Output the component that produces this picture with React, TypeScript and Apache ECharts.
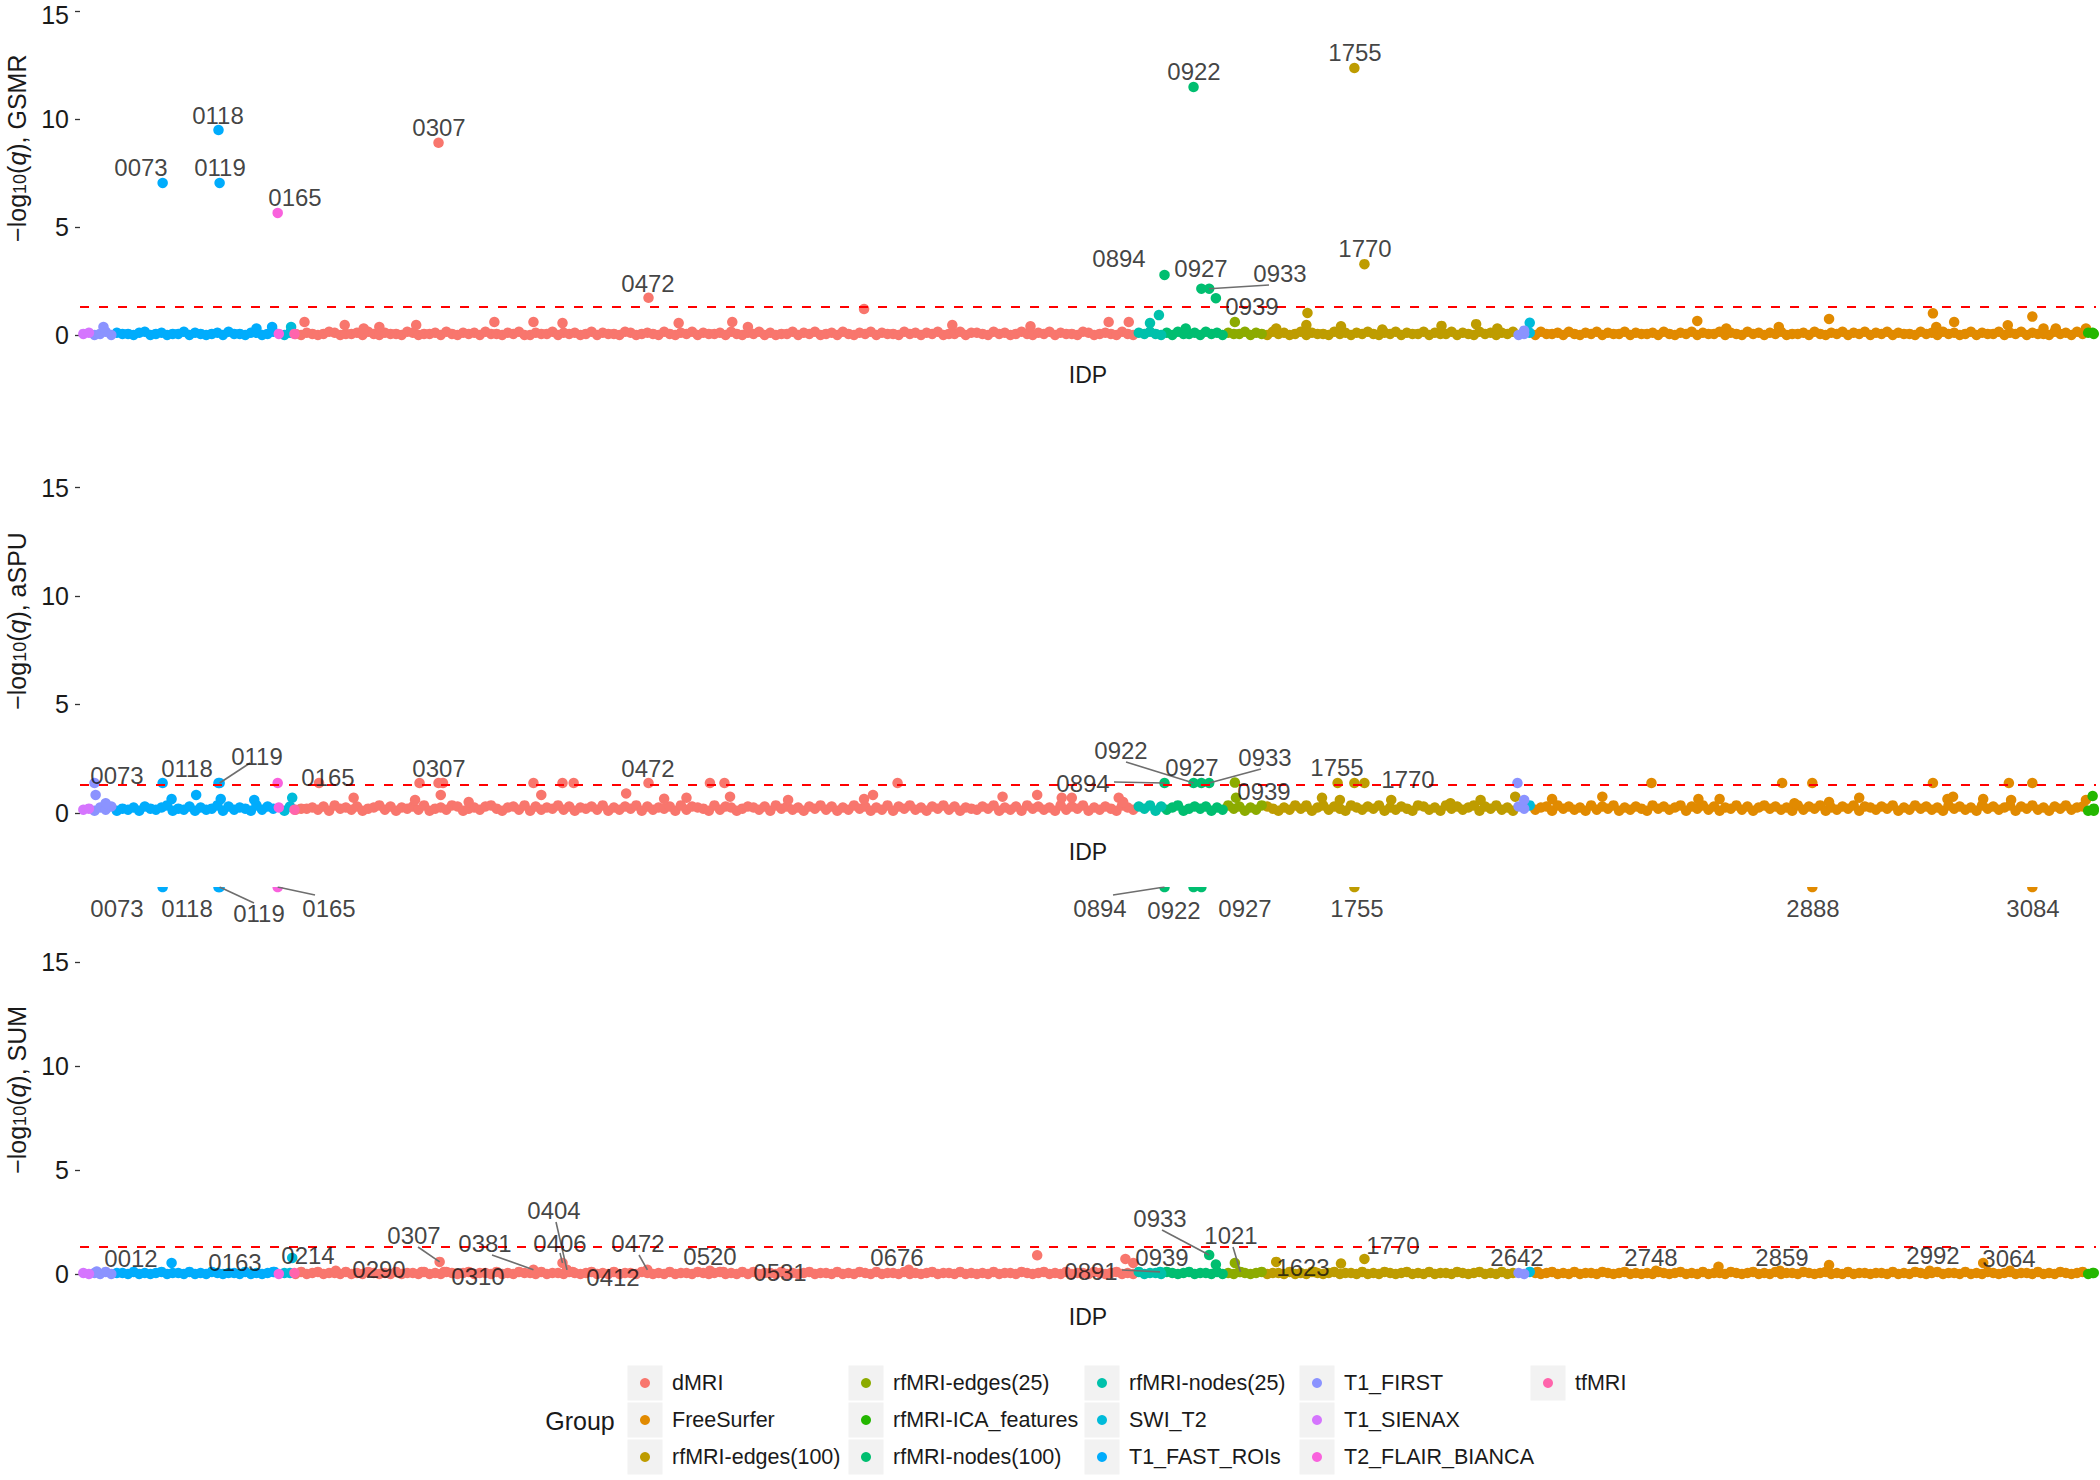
import React, { useEffect, useRef } from "react";
import * as echarts from "echarts";

const FONT = "'Liberation Sans', Arial, Helvetica, sans-serif";

// ---------- groups ----------
const GROUPS = [
  "dMRI", "FreeSurfer", "rfMRI-edges(100)", "rfMRI-edges(25)", "rfMRI-ICA_features",
  "rfMRI-nodes(100)", "rfMRI-nodes(25)", "SWI_T2", "T1_FAST_ROIs", "T1_FIRST",
  "T1_SIENAX", "T2_FLAIR_BIANCA", "tfMRI",
];
const GROUP_COLORS = [
  "#F8766D", "#E18A00", "#BE9C00", "#8CAB00", "#24B700", "#00BE70", "#00C1AB",
  "#00BBDA", "#00ACFC", "#8B93FF", "#D575FE", "#F962DD", "#FF65AC",
];

// order of IDPs along the x axis: [group, first position, last position]
const X_BLOCKS: [string, number, number][] = [
  ["T1_SIENAX", 1, 12],
  ["T1_FIRST", 13, 30],
  ["T1_FAST_ROIs", 31, 176],
  ["T2_FLAIR_BIANCA", 177, 178],
  ["SWI_T2", 179, 190],
  ["tfMRI", 191, 192],
  ["dMRI", 193, 943],
  ["rfMRI-nodes(25)", 944, 969],
  ["rfMRI-nodes(100)", 970, 1026],
  ["rfMRI-edges(25)", 1027, 1060],
  ["rfMRI-edges(100)", 1061, 1285],
  ["T1_FIRST", 1286, 1294],
  ["SWI_T2", 1295, 1299],
  ["FreeSurfer", 1300, 1797],
  ["rfMRI-ICA_features", 1798, 1805],
];
const N_IDP = 1805;
const THRESHOLD = 1.30103; // -log10(0.05)
const TICKS = [0, 5, 10, 15];
const METHODS = ["GSMR", "aSPU", "SUM"];
// visible y range of each panel (the top panel is cut at the top of the figure)
const Y_RANGES: [number, number][] = [
  [-0.9, 15.51],
  [-0.9, 18.6],
  [-0.9, 18.6],
];

// ---------- bulk of IDPs (band near 0): one digit per sampled IDP, value = digit * 0.05 ----------
const BASE_START = 3;
const BASE_STEP = 5;
const BASE_UNIT = 0.05;

const GSMR_BASE =
  "1201302110230120113021012031102201310210" +
  "2101320112031021103201120310212031102130" +
  "0211302120130211032012103102130211203102" +
  "1302011302130120310213021103120213011302" +
  "2103120131021302110320121031021310203112" +
  "0312021130210312013021103120213102130211" +
  "3021130210312021301203112031021302113021" +
  "1203102130211302103120213011203102130213" +
  "0213021103120312013021130213021103120312" + "1";

const ASPU_BASE =
  "3425362435264357243625347263542736452634" +
  "4536274536245736254637245376245367425637" +
  "2635473625463725364726354627365427365246" +
  "5362746352647362537462537264735264736254" +
  "3647253627463527364725364275364726357246" +
  "4625374625376425374625736427536472536427" +
  "6352746357264735264735627463527364725364" +
  "2746357264736254736257463527364725364726" +
  "5364725374635274635274635726473526473562" + "4";

const SUM_BASE =
  "1010201102010120110201021011020101201102" +
  "0120110201021010201102010210120110201021" +
  "1020110210120102011021010201102101201020" +
  "2011020101201102010210201102010120110201" +
  "0102011021012010201102101201020110210120" +
  "1102010210120110201021012011020102101201" +
  "0201102101201020110210120102011021012010" +
  "1021012010201102101201020110210120102011" +
  "0110201021012011020102101201102010210120" + "1";

// ---------- visible points above the band: [IDP position, -log10(q)] ----------
const GSMR_BUMPS: [number, number][] = [
  [21, 0.37], [158, 0.3], [172, 0.37], [189, 0.37], [192, 0.05],
  [201, 0.6], [237, 0.46], [254, 0.3], [268, 0.37], [301, 0.46], [371, 0.6], [406, 0.6],
  [432, 0.55], [536, 0.55], [584, 0.6], [598, 0.37], [702, 1.2], [781, 0.46], [851, 0.4],
  [921, 0.6], [939, 0.6], [958, 0.55], [966, 0.92], [990, 0.3], [1017, 1.7],
  [1071, 0.3], [1098, 0.46], [1099, 1.02], [1129, 0.4], [1166, 0.25], [1219, 0.42],
  [1250, 0.5], [1269, 0.3], [1293, 0.2], [1298, 0.56],
  [1448, 0.65], [1474, 0.3], [1521, 0.37], [1566, 0.74], [1659, 1.0], [1662, 0.37],
  [1678, 0.6], [1726, 0.45], [1748, 0.85], [1758, 0.3], [1769, 0.3], [1796, 0.3], [1802, 0.1],
];
const ASPU_BUMPS: [number, number][] = [
  [13, 1.38], [14, 0.83], [23, 0.45], [82, 0.64], [104, 0.83], [126, 0.64], [156, 0.6],
  [190, 0.7], [192, 0.15], [214, 1.38], [245, 0.7], [300, 0.6], [304, 1.38], [323, 0.83],
  [325, 1.38], [348, 0.5], [406, 1.38], [413, 0.83], [432, 1.38], [442, 1.38], [489, 0.9],
  [523, 0.65], [543, 0.7], [564, 1.38], [577, 1.38], [582, 0.75], [634, 0.6], [702, 0.64],
  [710, 0.83], [732, 1.38], [826, 0.75], [857, 0.83], [879, 0.7], [888, 0.7], [930, 0.7],
  [934, 0.5], [1035, 0.7], [1098, 0.35], [1112, 0.7], [1126, 1.38], [1128, 0.6],
  [1174, 0.6], [1227, 0.45], [1254, 0.6], [1285, 0.75], [1287, 1.38], [1293, 0.6],
  [1318, 0.64], [1363, 0.75], [1407, 1.38], [1449, 0.64], [1468, 0.64], [1524, 1.38],
  [1535, 0.45], [1551, 1.38], [1566, 0.5], [1593, 0.7], [1659, 1.38], [1672, 0.64],
  [1677, 0.75], [1704, 0.64], [1727, 1.38], [1729, 0.6], [1748, 1.38], [1796, 0.6],
  [1802, 0.78], [1803, 0.1],
];
const SUM_BUMPS: [number, number][] = [
  [82, 0.53], [190, 0.77], [192, 0.05], [857, 0.9], [936, 0.72], [943, 0.53], [1017, 0.45],
  [1071, 0.58], [1129, 0.5], [1467, 0.35], [1566, 0.43], [1704, 0.53], [1802, 0.05],
];

// ---------- labelled IDPs: [IDP position, -log10(q), IDP id] ----------
const GSMR_HITS: [number, number, string][] = [
  [74, 7.04, "0073"], [124, 9.49, "0118"], [125, 7.04, "0119"], [177, 5.65, "0165"],
  [321, 8.9, "0307"], [509, 1.72, "0472"], [971, 2.78, "0894"], [997, 11.48, "0922"],
  [1004, 2.14, "0927"], [1011, 2.14, "0933"], [1034, 0.6, "0939"], [1141, 12.36, "1755"],
  [1150, 3.28, "1770"],
];
const ASPU_HITS: [number, number, string][] = [
  [74, 1.38, "0073"], [124, 1.38, "0118"], [125, 1.38, "0119"], [177, 1.38, "0165"],
  [321, 1.38, "0307"], [509, 1.38, "0472"], [971, 1.38, "0894"], [997, 1.38, "0922"],
  [1004, 1.38, "0927"], [1011, 1.38, "0933"], [1034, 1.4, "0939"], [1141, 1.38, "1755"],
  [1150, 1.38, "1770"],
];
const SUM_HITS: [number, number, string][] = [
  [15, 0.12, "0012"], [174, 0.1, "0163"], [229, 0.15, "0214"], [306, 0.1, "0290"],
  [322, 0.58, "0307"], [326, 0.1, "0310"], [406, 0.2, "0381"], [436, 0.2, "0404"],
  [432, 0.53, "0406"], [441, 0.1, "0412"], [508, 0.2, "0472"], [564, 0.15, "0520"],
  [576, 0.1, "0531"], [742, 0.2, "0676"], [967, 0.1, "0891"], [1011, 0.91, "0933"],
  [1034, 0.53, "0939"], [1039, 0.1, "1021"], [1105, 0.1, "1623"], [1150, 0.72, "1770"],
  [1305, 0.1, "2642"], [1411, 0.15, "2748"], [1522, 0.15, "2859"], [1656, 0.15, "2992"],
  [1728, 0.15, "3064"],
];
// q = 0 in SUM -> -log10(q) = Inf, drawn at the top edge of the panel
const SUM_INF: [number, number, string][] = [
  [74, Infinity, "0073"], [124, Infinity, "0118"], [125, Infinity, "0119"],
  [177, Infinity, "0165"], [971, Infinity, "0894"], [997, Infinity, "0922"],
  [1004, Infinity, "0927"], [1141, Infinity, "1755"], [1551, Infinity, "2888"],
  [1748, Infinity, "3084"],
];

// ---------- layout (pixels) ----------
const GRID_LEFT = 80;
const GRID_W = 2016;
const PANEL_LAYOUT = [
  { top: 0, height: 354.4, idpGap: 9, titleShift: 58, topLabelPad: 8 },
  { top: 409.4, height: 423.1, idpGap: 8, titleShift: 0, topLabelPad: 0 },
  { top: 887, height: 405.7, idpGap: 13, titleShift: 0, topLabelPad: 0 },
];
const DOT = 10.5;

// label centres (page pixels)
const LABEL_POS: Record<string, [number, number]>[] = [
  {
    "0073": [141, 167], "0118": [218, 115], "0119": [220, 167], "0165": [295, 197],
    "0307": [439, 127], "0472": [648, 283], "0894": [1119, 258], "0922": [1194, 71],
    "0927": [1201, 268], "0933": [1280, 273], "0939": [1252, 306], "1755": [1355, 52],
    "1770": [1365, 248],
  },
  {
    "0073": [117, 775], "0118": [187, 768], "0119": [257, 756], "0165": [328, 777],
    "0307": [439, 768], "0472": [648, 768], "0894": [1083, 783], "0922": [1121, 750],
    "0927": [1192, 767], "0933": [1265, 757], "0939": [1264, 791], "1755": [1337, 767],
    "1770": [1408, 779],
  },
  {
    "0073": [117, 908], "0118": [187, 908], "0119": [259, 913], "0165": [329, 908],
    "0894": [1100, 908], "0922": [1174, 910], "0927": [1245, 908], "1755": [1357, 908],
    "2888": [1813, 908], "3084": [2033, 908],
    "0012": [131, 1258], "0163": [235, 1262], "0214": [308, 1255], "0290": [379, 1269],
    "0307": [414, 1235], "0310": [478, 1276], "0381": [485, 1243], "0404": [554, 1210],
    "0406": [560, 1243], "0412": [613, 1277], "0472": [638, 1243], "0520": [710, 1256],
    "0531": [780, 1272], "0676": [897, 1257], "0891": [1091, 1271], "0933": [1160, 1218],
    "0939": [1162, 1257], "1021": [1231, 1235], "1623": [1303, 1267], "1770": [1393, 1245],
    "2642": [1517, 1257], "2748": [1651, 1257], "2859": [1782, 1257], "2992": [1933, 1255],
    "3064": [2009, 1258],
  },
];
// connector start points (page pixels); they end at the labelled point
const CONNECTORS: [string, [number, number]][][] = [
  [["0933", [1269, 285]]],
  [["0119", [250, 763]], ["0894", [1114, 782]], ["0922", [1126, 762]], ["0933", [1261, 769]]],
  [
    ["0119", [254, 903]], ["0165", [315, 895]], ["0894", [1113, 895]], ["0307", [418, 1247]],
    ["0381", [492, 1255]], ["0404", [556, 1222]], ["0406", [560, 1253]], ["0472", [639, 1255]],
    ["0891", [1122, 1270]], ["0933", [1162, 1230]], ["1021", [1233, 1247]],
  ],
];

const LEGEND_DOT_X = [645, 866, 1102, 1317, 1548]; // dot centres per column
const LEGEND_ROW0 = 1383; // centre of first row
const LEGEND_ROW = 37;
const LEGEND_TEXT_DX = 27; // dot centre -> text start

const HALF_DISC = "path://M0,0L10,0C10,6.667,0,6.667,0,0Z";

function groupAt(x: number): string {
  for (const [g, a, b] of X_BLOCKS) if (x >= a && x <= b) return g;
  return "FreeSurfer";
}
const toDataX = (px: number) => ((px - GRID_LEFT) / GRID_W) * N_IDP;
const toDataY = (p: number, py: number) => {
  const [lo, hi] = Y_RANGES[p];
  return hi - ((py - PANEL_LAYOUT[p].top) / PANEL_LAYOUT[p].height) * (hi - lo);
};

function buildOption() {
  const panels = [
    { base: GSMR_BASE, bumps: GSMR_BUMPS, hits: GSMR_HITS, inf: [] as [number, number, string][] },
    { base: ASPU_BASE, bumps: ASPU_BUMPS, hits: ASPU_HITS, inf: [] as [number, number, string][] },
    { base: SUM_BASE, bumps: SUM_BUMPS, hits: SUM_HITS, inf: SUM_INF },
  ];

  const grid: any[] = [];
  const xAxis: any[] = [];
  const yAxis: any[] = [];
  const series: any[] = [];

  panels.forEach((pd, p) => {
    const L = PANEL_LAYOUT[p];
    const [yLo, yHi] = Y_RANGES[p];
    const topTick = TICKS[TICKS.length - 1];
    grid.push({
      left: GRID_LEFT, width: GRID_W, top: L.top, height: L.height,
      containLabel: false, outerBoundsMode: "none",
    });
    xAxis.push({
      gridIndex: p, type: "value", min: 0, max: N_IDP,
      axisLine: { show: false }, axisTick: { show: false }, axisLabel: { show: false },
      splitLine: { show: false },
      name: "IDP", nameLocation: "middle", nameGap: L.idpGap,
      nameTextStyle: { fontSize: 23, color: "#1a1a1a", fontFamily: FONT },
    });
    yAxis.push({
      gridIndex: p, type: "value", min: yLo, max: yHi,
      axisLine: { show: false }, splitLine: { show: false },
      axisTick: { show: true, length: 5, lineStyle: { color: "#333", width: 1.3 }, customValues: TICKS },
      axisLabel: {
        fontSize: 25, color: "#1a1a1a", fontFamily: FONT, margin: 11, customValues: TICKS,
        formatter: (v: number) => (v === topTick && L.topLabelPad ? "{t|" + v + "}" : String(v)),
        rich: { t: { fontSize: 25, fontFamily: FONT, color: "#1a1a1a", padding: [L.topLabelPad, 0, 0, 0] } },
      },
      name: "−log{sub|10}({it|q}), " + METHODS[p],
      nameLocation: "middle", nameRotate: 90, nameGap: 51,
      nameTextStyle: {
        fontSize: 25, color: "#1a1a1a", fontFamily: FONT,
        padding: [0, 0, 0, L.titleShift],
        rich: {
          sub: { fontSize: 18, lineHeight: 15, verticalAlign: "bottom", fontFamily: FONT, color: "#1a1a1a" },
          it: { fontSize: 25, fontStyle: "italic", fontFamily: FONT, color: "#1a1a1a" },
        },
      },
    });

    const byGroup: Record<string, any[]> = {};
    GROUPS.forEach((g) => (byGroup[g] = []));
    for (let i = 0; i < pd.base.length; i++) {
      const x = BASE_START + i * BASE_STEP;
      if (x > N_IDP) break;
      byGroup[groupAt(x)].push([x, Number(pd.base[i]) * BASE_UNIT]);
    }
    pd.bumps.forEach(([x, v]) => byGroup[groupAt(x)].push([x, v]));
    pd.hits.forEach(([x, v, id]) => byGroup[groupAt(x)].push({ name: id, value: [x, v] }));
    pd.inf.forEach(([x, _v, id]) =>
      byGroup[groupAt(x)].push({
        name: id, value: [x, yHi], symbol: HALF_DISC,
        symbolSize: [DOT, DOT / 2], symbolOffset: [0, DOT / 4],
      })
    );

    GROUPS.forEach((g, gi) => {
      series.push({
        type: "scatter", name: g, xAxisIndex: p, yAxisIndex: p,
        data: byGroup[g], symbol: "circle", symbolSize: DOT, clip: false,
        itemStyle: { color: GROUP_COLORS[gi], opacity: 1 }, z: 2, silent: true,
      });
    });

    // labels
    const pointOf: Record<string, [number, number]> = {};
    [...pd.hits, ...pd.inf].forEach(([x, v, id]) => {
      pointOf[id] = [x, Number.isFinite(v) ? v : yHi];
    });
    const labelData = Object.keys(pointOf).map((id) => {
      const pos = LABEL_POS[p][id];
      const [x, v] = pointOf[id];
      return { name: id, value: pos ? [toDataX(pos[0]), toDataY(p, pos[1])] : [x, v + 0.8] };
    });
    series.push({
      type: "scatter", name: "labels-" + p, xAxisIndex: p, yAxisIndex: p,
      data: labelData, symbolSize: 1, clip: false, silent: true,
      itemStyle: { color: "rgba(0,0,0,0)" },
      label: {
        show: true, position: "inside", formatter: "{b}",
        fontSize: 24, color: "#111", fontFamily: FONT,
      },
      z: 6,
      markLine: {
        silent: true, symbol: ["none", "none"], label: { show: false },
        lineStyle: { color: "#FF0000", type: [9, 10], width: 2 },
        data: [{ yAxis: THRESHOLD }],
      },
    });

    // connectors
    series.push({
      type: "lines", coordinateSystem: "cartesian2d", xAxisIndex: p, yAxisIndex: p,
      silent: true, z: 5, polyline: false,
      lineStyle: { color: "#6e6e6e", width: 1.6, opacity: 1 },
      data: CONNECTORS[p].map(([id, from]) => ({
        coords: [[toDataX(from[0]), toDataY(p, from[1])], pointOf[id]],
      })),
    });
  });

  // legend: column-major, 3 rows
  const cols: string[][] = [];
  for (let i = 0; i < GROUPS.length; i += 3) cols.push(GROUPS.slice(i, i + 3));
  const itemH = 24;
  const iconSize = 10;
  const legend = cols.map((names, c) => ({
    orient: "vertical", left: LEGEND_DOT_X[c] - iconSize / 2, top: LEGEND_ROW0 - itemH / 2, padding: 0,
    itemWidth: iconSize, itemHeight: iconSize, itemGap: LEGEND_ROW - itemH, icon: "circle",
    data: names, selectedMode: false,
    formatter: "{sp| }{name}",
    textStyle: {
      fontSize: 21.5, color: "#1a1a1a", fontFamily: FONT, lineHeight: itemH,
      rich: { sp: { width: LEGEND_TEXT_DX - iconSize / 2 - 5, fontSize: 21.5, lineHeight: itemH } },
    },
  }));
  const graphic: any[] = [];
  cols.forEach((names, c) =>
    names.forEach((_n, r) =>
      graphic.push({
        type: "rect", z: 0, silent: true,
        shape: { x: LEGEND_DOT_X[c] - 17.5, y: LEGEND_ROW0 + r * LEGEND_ROW - 17.5, width: 35, height: 35 },
        style: { fill: "#F2F2F2" },
      })
    )
  );
  graphic.push({
    type: "text", x: 580, y: 1421, z: 5,
    style: { text: "Group", fontSize: 25, fontFamily: FONT, fill: "#1a1a1a", align: "center", verticalAlign: "middle" },
  });

  return {
    animation: false,
    backgroundColor: "#ffffff",
    textStyle: { fontFamily: FONT },
    grid, xAxis, yAxis, series, legend, graphic,
  };
}

export default function App() {
  const ref = useRef<HTMLDivElement>(null);
  useEffect(() => {
    document.body.style.margin = "0";
    const chart = echarts.init(ref.current!, undefined, { renderer: "svg" });
    chart.setOption(buildOption() as any);
    return () => chart.dispose();
  }, []);
  return <div ref={ref} style={{ width: 2100, height: 1480 }} />;
}
